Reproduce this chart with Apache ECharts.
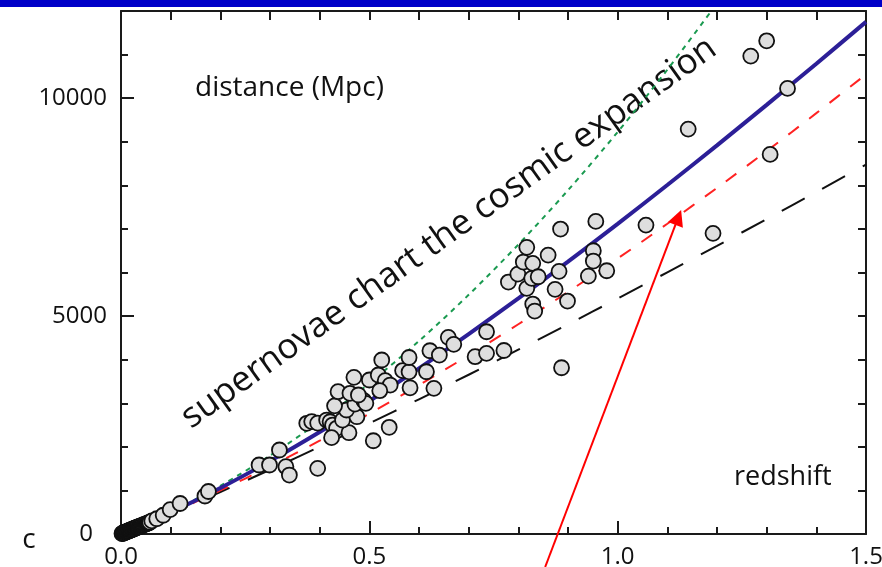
<!DOCTYPE html>
<html>
<head>
<meta charset="utf-8">
<script src="https://cdn.jsdelivr.net/npm/echarts@6/dist/echarts.min.js"></script>
<style>
html,body{margin:0;padding:0;background:#fff;}
#chart{width:882px;height:567px;}
</style>
</head>
<body>
<div id="chart"></div>
<script>
// redshift grid for model curves
const curveZ = [0,0.1,0.2,0.3,0.4,0.5,0.6,0.7,0.8,0.9,1.0,1.1,1.2,1.3,1.4,1.5];
// solid blue curve (distance, Mpc)
const blueCurve  = [0,496,1055,1672,2339,3051,3802,4588,5404,6248,7117,8008,8918,9846,10791,11751];
// red short-dashed curve
const redCurve   = [0,481,999,1553,2141,2762,3416,4100,4813,5555,6321,7119,7941,8786,9656,10546];
// black long-dashed curve
const blackCurve = [0,472,964,1474,2000,2539,3091,3654,4228,4811,5403,6004,6611,7226,7848,8476];
// green dotted curve (leaves the frame near z=1.17)
const greenZ     = [0,0.1,0.2,0.3,0.4,0.5,0.6,0.7,0.8,0.9,1.0,1.1,1.2];
const greenCurve = [0,507,1107,1799,2583,3459,4428,5488,6641,7887,9224,10654,12176];

// supernovae: redshift and distance (Mpc)
const snZ = [
  0.002,0.003,0.004,0.005,0.006,0.007,0.008,0.009,0.010,0.011,0.012,0.013,0.014,0.015,0.016,0.017,0.018,0.019,0.020,0.021,
  0.022,0.023,0.024,0.025,0.026,0.027,0.028,0.029,0.030,0.031,0.032,0.033,0.034,0.035,0.036,0.038,0.039,0.040,0.042,0.043,
  0.045,0.046,0.048,0.050,0.052,0.053,0.055,0.056,0.058,
  0.062,0.072,0.085,0.099,0.119,0.169,0.176,
  0.278,0.299,0.319,0.332,0.339,0.396,
  0.374,0.384,0.396,0.414,0.421,0.426,0.434,0.424,0.459,
  0.446,0.475,0.454,0.430,0.471,0.489,0.493,0.437,0.461,0.478,0.469,0.500,0.518,0.532,0.542,0.521,0.525,0.540,0.508,
  0.567,0.580,0.580,0.582,0.615,0.622,0.630,0.641,0.659,0.670,0.713,0.736,0.736,0.771,
  0.780,0.799,0.810,0.817,0.817,0.827,0.829,0.829,0.833,0.840,0.860,0.874,0.882,0.885,0.887,0.899,0.941,0.951,0.951,0.956,0.978,
  1.057,1.142,1.192,1.268,1.300,1.307,1.342
];
const snD = [
  10,12,20,22,30,32,38,40,48,50,55,62,64,70,76,78,84,90,92,98,
  100,108,110,118,120,126,130,136,140,146,148,154,160,162,168,176,182,186,194,200,
  208,214,222,230,238,244,252,258,268,
  300,350,430,560,700,872,975,
  1583,1583,1927,1544,1353,1507,
  2540,2580,2545,2615,2576,2500,2425,2210,2324,
  2615,2691,2845,2940,2982,3058,2998,3265,3228,3189,3594,3533,3648,3517,3418,3288,3992,2448,2140,
  3750,3720,4050,3355,3723,4205,3342,4106,4512,4352,4068,4145,4641,4210,
  5781,5964,6240,6577,5636,5866,6210,5276,5116,5902,6400,5613,6026,6997,3815,5345,5918,6499,6263,7173,6040,
  7088,9291,6898,10965,11316,8710,10224
];

// arrow annotation (redshift, distance) start and tip
const arrowFrom = [0.854, -757];
const arrowTo   = [1.122, 7265];

// axis label values
const xLabels = [0, 0.5, 1.0, 1.5];
const yLabels = [0, 5000, 10000];

const FONT = '"Open Sans", "Noto Sans", sans-serif';
const AX = '#1a1a1a';

const pairs = (xs, ys) => xs.map((x, i) => [x, ys[i]]);

const chart = echarts.init(document.getElementById('chart'), null, {renderer: 'canvas'});

const baseX = {type: 'value', min: 0, max: 1.5, splitLine: {show: false}};
const baseY = {type: 'value', min: 0, max: 12000, splitLine: {show: false}};

chart.setOption({
  animation: false,
  backgroundColor: '#ffffff',
  grid: {left: 121, right: 16, top: 11, bottom: 33, containLabel: false, outerBoundsMode: 'none'},
  xAxis: [
    Object.assign({}, baseX, {
      position: 'bottom', interval: 0.1,
      axisLine: {show: true, onZero: false, lineStyle: {color: AX, width: 2}},
      axisTick: {show: true, inside: true, length: 7, lineStyle: {color: AX, width: 2}},
      axisLabel: {customValues: xLabels, formatter: v => v.toFixed(1), fontFamily: FONT, fontSize: 24, color: '#111', margin: 11}
    }),
    Object.assign({}, baseX, {
      position: 'bottom', interval: 0.5,
      axisLine: {show: false},
      axisTick: {show: true, inside: true, length: 13, customValues: xLabels, lineStyle: {color: AX, width: 2}},
      axisLabel: {show: false}
    }),
    Object.assign({}, baseX, {
      position: 'top', interval: 0.1,
      axisLine: {show: true, onZero: false, lineStyle: {color: AX, width: 2}},
      axisTick: {show: true, inside: true, length: 9, lineStyle: {color: AX, width: 2}},
      axisLabel: {show: false}
    })
  ],
  yAxis: [
    Object.assign({}, baseY, {
      position: 'left', interval: 1000,
      axisLine: {show: true, onZero: false, lineStyle: {color: AX, width: 2}},
      axisTick: {show: true, inside: true, length: 7, lineStyle: {color: AX, width: 2}},
      axisLabel: {
        customValues: yLabels,
        formatter: v => v === 0 ? '{z|0}' : String(v),
        rich: {z: {fontFamily: FONT, fontSize: 24, color: '#111', padding: [0, 14, 0, 0]}},
        fontFamily: FONT, fontSize: 24, color: '#111', margin: 14
      }
    }),
    Object.assign({}, baseY, {
      position: 'left', interval: 5000,
      axisLine: {show: false},
      axisTick: {show: true, inside: true, length: 13, customValues: yLabels, lineStyle: {color: AX, width: 2}},
      axisLabel: {show: false}
    }),
    Object.assign({}, baseY, {
      position: 'right', interval: 1000,
      axisLine: {show: true, onZero: false, lineStyle: {color: AX, width: 2}},
      axisTick: {show: true, inside: true, length: 8, lineStyle: {color: AX, width: 2}},
      axisLabel: {show: false}
    })
  ],
  series: [
    {
      type: 'line', name: 'black', data: pairs(curveZ, blackCurve), smooth: 0.3,
      showSymbol: false, symbol: 'none',
      lineStyle: {color: '#111111', width: 2, type: [26, 20]}, z: 2
    },
    {
      type: 'line', name: 'red', data: pairs(curveZ, redCurve), smooth: 0.3,
      showSymbol: false, symbol: 'none',
      lineStyle: {color: '#ff2222', width: 2, type: [13, 13]}, z: 2
    },
    {
      type: 'line', name: 'green', data: pairs(greenZ, greenCurve), smooth: 0.3,
      showSymbol: false, symbol: 'none', clip: true,
      lineStyle: {color: '#1a9a50', width: 2, type: [5, 5]}, z: 2
    },
    {
      type: 'line', name: 'blue', data: pairs(curveZ, blueCurve), smooth: 0.3,
      showSymbol: false, symbol: 'none',
      lineStyle: {color: '#2c1f97', width: 4}, z: 3
    },
    {
      type: 'scatter', name: 'supernovae', data: pairs(snZ, snD),
      symbol: 'circle', symbolSize: 15,
      itemStyle: {color: '#dedede', borderColor: '#111111', borderWidth: 1.8, opacity: 1},
      z: 5
    },
    {
      type: 'lines', coordinateSystem: 'cartesian2d', clip: false, polyline: false,
      symbol: ['none', 'triangle'], symbolSize: [0, 16],
      lineStyle: {color: '#ff0000', width: 2, opacity: 1, curveness: 0},
      data: [{coords: [arrowFrom, arrowTo]}],
      z: 6
    }
  ],
  graphic: [
    {type: 'rect', left: 0, top: 0, shape: {width: 882, height: 7}, style: {fill: '#0000c8'}, z: 100},
    {type: 'text', x: 195, y: 88, style: {text: 'distance (Mpc)', font: '28px ' + FONT, fill: '#111', textAlign: 'left', textVerticalAlign: 'middle'}},
    {type: 'text', x: 734, y: 477, style: {text: 'redshift', font: '27px ' + FONT, fill: '#111', textAlign: 'left', textVerticalAlign: 'middle'}},
    {type: 'text', x: 29, y: 540, style: {text: 'c', font: '28px ' + FONT, fill: '#111', textAlign: 'center', textVerticalAlign: 'middle'}},
    {type: 'text', x: 449, y: 233, rotation: 35.5 * Math.PI / 180,
     style: {text: 'supernovae chart the cosmic expansion', font: '35px ' + FONT, fill: '#111', textAlign: 'center', textVerticalAlign: 'middle'}}
  ]
});
</script>
</body>
</html>
